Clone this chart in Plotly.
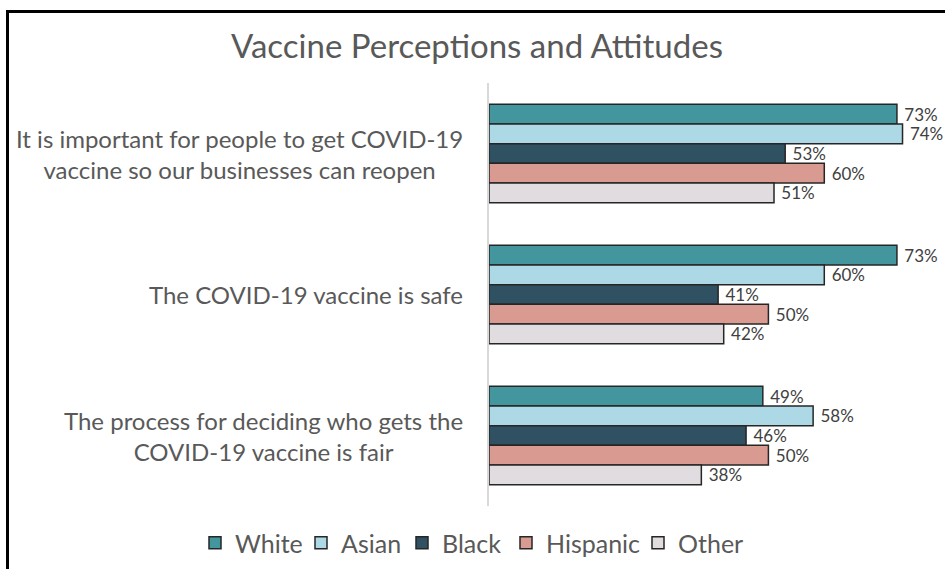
import plotly.graph_objects as go

# Survey statements (top to bottom) and share agreeing, by group
statements = [
    "It is important for people to get COVID-19<br>vaccine so our businesses can reopen",
    "The COVID-19 vaccine is safe",
    "The process for deciding who gets the<br>COVID-19 vaccine is fair",
]
groups = ["White", "Asian", "Black", "Hispanic", "Other"]
white = [73, 73, 49]
asian = [74, 60, 58]
black = [53, 41, 46]
hispanic = [60, 50, 50]
other = [51, 42, 38]
series = [white, asian, black, hispanic, other]
colors = ["#43969E", "#ADD8E6", "#2F5162", "#D99A91", "#E0DCDF"]

W, H = 945, 569
ML, MR, MT, MB = 489, 0, 83, 63
PW, PH = W - ML - MR, H - MT - MB
X_MAX = 81.6

FONT = "Lato"
TXT = "#595959"


def px_x(p):
    return (p - ML) / PW


def px_y(p):
    return (H - MB - p) / PH


fig = go.Figure()
for i, (name, vals, col) in enumerate(zip(groups, series, colors)):
    fig.add_trace(go.Bar(
        name=name,
        y=statements,
        x=vals,
        orientation="h",
        marker=dict(color=col, line=dict(color="#262626", width=1.5)),
        text=[f"\u00a0{v}%" for v in vals],
        textposition="outside",
        textfont=dict(family=FONT, size=17, color="#404040"),
        constraintext="none",
        cliponaxis=False,
        showlegend=True,
        legend="legend" if i == 0 else f"legend{i + 1}",
    ))

# statement labels, centred line by line
annotations = []
for s in statements:
    annotations.append(dict(
        x=px_x(465), xref="paper", xanchor="right",
        y=s, yref="y", yanchor="middle",
        text=s, showarrow=False, align="center",
        font=dict(family=FONT, size=24, color=TXT),
    ))

# one legend box per group so the entries sit at their own positions
legend_left = [195, 301, 402, 506, 638]
legends = {}
for i, lx in enumerate(legend_left):
    key = "legend" if i == 0 else f"legend{i + 1}"
    legends[key] = dict(
        x=px_x(lx), xanchor="left",
        y=px_y(543), yanchor="middle",
        orientation="h",
        bgcolor="rgba(0,0,0,0)",
        font=dict(family=FONT, size=25, color=TXT),
    )

fig.update_layout(
    width=W, height=H,
    margin=dict(l=ML, r=MR, t=MT, b=MB),
    paper_bgcolor="white",
    plot_bgcolor="white",
    showlegend=True,
    barmode="group",
    bargap=0.3,
    bargroupgap=0,
    title=dict(
        text="Vaccine Perceptions and Attitudes",
        x=477 / W, xanchor="center",
        y=1 - 46 / H, yanchor="middle",
        font=dict(family=FONT, size=33, color=TXT),
    ),
    xaxis=dict(range=[0, X_MAX], showgrid=False, zeroline=False,
               showticklabels=False, showline=False, fixedrange=True),
    yaxis=dict(autorange="reversed", showgrid=False, zeroline=False,
               showticklabels=False, showline=True, linecolor="#D9D9D9",
               linewidth=1.5, ticks=""),
    annotations=annotations,
    shapes=[dict(
        type="rect", xref="paper", yref="paper",
        x0=px_x(7.5), x1=px_x(952), y0=px_y(11.5), y1=px_y(580),
        line=dict(color="black", width=3), fillcolor="rgba(0,0,0,0)",
    )],
    **legends,
)

fig.write_html("out.html")
